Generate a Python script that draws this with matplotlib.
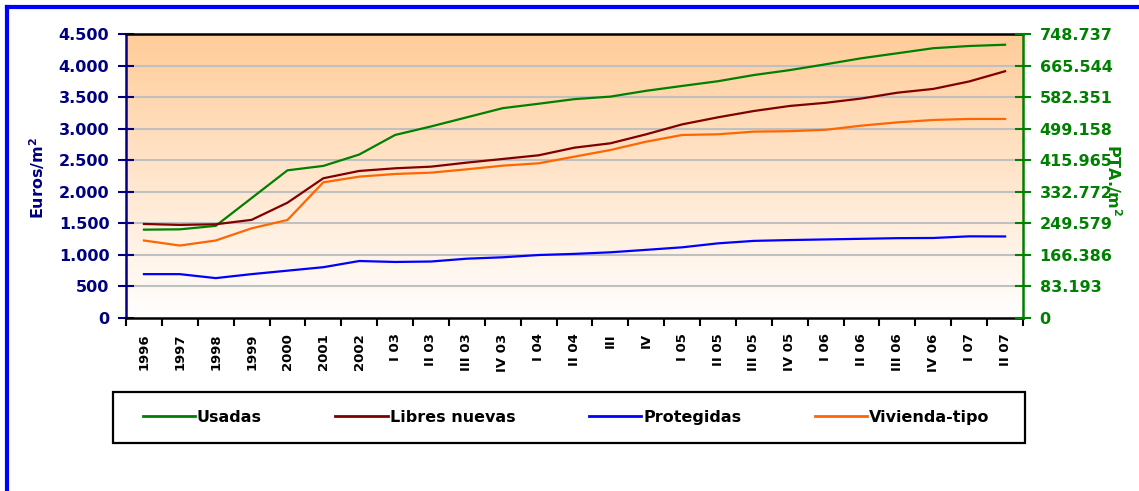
import numpy as np
import matplotlib
matplotlib.use('Agg')
import matplotlib.pyplot as plt
from matplotlib.lines import Line2D
from matplotlib.patches import Rectangle

# categories (x axis)
periods = ['1996', '1997', '1998', '1999', '2000', '2001', '2002',
           'I 03', 'II 03', 'III 03', 'IV 03', 'I 04', 'II 04', 'III', 'IV',
           'I 05', 'II 05', 'III 05', 'IV 05', 'I 06', 'II 06', 'III 06', 'IV 06',
           'I 07', 'II 07']

# euros / m2
usadas = [1400, 1405, 1460, 1900, 2340, 2410, 2590, 2900, 3035, 3180, 3325, 3395,
          3468, 3508, 3600, 3677, 3752, 3850, 3928, 4020, 4116, 4195, 4275, 4310, 4330]
libres_nuevas = [1490, 1475, 1485, 1555, 1827, 2214, 2330, 2372, 2398, 2462, 2520, 2578,
                 2699, 2768, 2911, 3068, 3180, 3280, 3360, 3410, 3478, 3570, 3630, 3748, 3910]
protegidas = [695, 695, 632, 695, 750, 805, 903, 888, 895, 940, 962, 998,
              1016, 1041, 1080, 1120, 1183, 1222, 1235, 1245, 1255, 1265, 1268, 1294, 1292]
vivienda_tipo = [1228, 1148, 1228, 1421, 1553, 2150, 2240, 2282, 2303, 2356, 2414, 2451,
                 2557, 2662, 2794, 2900, 2911, 2953, 2960, 2982, 3048, 3100, 3138, 3154, 3154]

# left axis ticks and matching peseta labels on the right
euro_ticks = [0, 500, 1000, 1500, 2000, 2500, 3000, 3500, 4000, 4500]
euro_labels = ['0', '500', '1.000', '1.500', '2.000', '2.500', '3.000', '3.500', '4.000', '4.500']
pta_labels = ['0', '83.193', '166.386', '249.579', '332.772', '415.965',
              '499.158', '582.351', '665.544', '748.737']

NAVY = '#000080'
GREEN = '#008000'

W, H = 1139, 491
fig = plt.figure(figsize=(W / 100, H / 100), dpi=100)
fig.patch.set_facecolor('white')

ax = fig.add_axes([126 / W, 1 - 318 / H, (1023 - 126) / W, (318 - 34) / H])
x = np.arange(len(periods))

# peach -> white background gradient
grad = np.linspace(0, 1, 256).reshape(-1, 1)
top = np.array([255, 204, 153]) / 255
bot = np.array([255, 255, 255]) / 255
img = top[None, None, :] * (1 - grad[:, :, None]) + bot[None, None, :] * grad[:, :, None]
ax.imshow(img, extent=[0, 1, 0, 1], transform=ax.transAxes, aspect='auto', zorder=0)

for v in euro_ticks[1:-1]:
    ax.axhline(v, color='#c0c0c0', lw=1.5, zorder=1)

ax.plot(x, usadas, color=GREEN, lw=1.6, label='Usadas', zorder=3)
ax.plot(x, libres_nuevas, color='#800000', lw=1.6, label='Libres nuevas', zorder=3)
ax.plot(x, protegidas, color='#0000ff', lw=1.6, label='Protegidas', zorder=3)
ax.plot(x, vivienda_tipo, color='#ff6600', lw=1.6, label='Vivienda-tipo', zorder=3)

ax.set_xlim(-0.5, len(periods) - 0.5)
ax.set_ylim(0, 4500)

ax.set_yticks(euro_ticks)
ax.set_yticklabels(euro_labels)
ax.tick_params(axis='y', direction='inout', length=12, width=1.5, color=NAVY,
               labelcolor=NAVY, labelsize=11.5, pad=6)
for t in ax.get_yticklabels():
    t.set_fontweight('bold')

ax.set_xticks(x)
ax.set_xticklabels(periods, rotation=90, fontsize=9.5, fontweight='bold', va='top')
ax.tick_params(axis='x', length=0, pad=11)
ax.set_xticks(np.arange(len(periods) + 1) - 0.5, minor=True)
ax.tick_params(axis='x', which='minor', direction='out', length=6, width=1.5, color='black')

for side in ['top', 'bottom']:
    ax.spines[side].set_color('black')
    ax.spines[side].set_linewidth(1.8)
ax.spines['left'].set_color(NAVY)
ax.spines['left'].set_linewidth(1.8)
ax.spines['right'].set_visible(False)

ax2 = ax.twinx()
ax2.set_ylim(0, 4500)
ax2.set_yticks(euro_ticks)
ax2.set_yticklabels(pta_labels)
ax2.tick_params(axis='y', direction='inout', length=12, width=1.5, color=GREEN,
                labelcolor=GREEN, labelsize=11.5, pad=6)
for t in ax2.get_yticklabels():
    t.set_fontweight('bold')
for side in ['top', 'bottom', 'left']:
    ax2.spines[side].set_visible(False)
ax2.spines['right'].set_color(GREEN)
ax2.spines['right'].set_linewidth(1.8)

fig.text(37 / W, 1 - 178 / H, 'Euros/m$^\\mathbf{2}$', rotation=90, color=NAVY,
         fontsize=11.5, fontweight='bold', ha='center', va='center')
fig.text(1114 / W, 1 - 180 / H, 'PTA./m$^\\mathbf{2}$', rotation=270, color=GREEN,
         fontsize=11.5, fontweight='bold', ha='center', va='center')

# legend entries centred in a box spanning x 113..1025, y 392..443
leg = fig.legend(*ax.get_legend_handles_labels(), loc='center', ncol=4,
                 bbox_to_anchor=(566 / W, 1 - 417.5 / H),
                 fontsize=11.5, handlelength=3.3, handletextpad=0.1, columnspacing=4.6,
                 frameon=False, borderaxespad=0)
for t in leg.get_texts():
    t.set_fontweight('bold')
for h in leg.get_lines():
    h.set_linewidth(2)
fig.add_artist(Rectangle((113 / W, 1 - 443 / H), (1025 - 113) / W, 51 / H,
                         transform=fig.transFigure, facecolor='none',
                         edgecolor='black', lw=1.6))

# blue outer frame (left and top edges)
fig.add_artist(Line2D([6.5 / W, 6.5 / W], [0, 1 - 6.5 / H], transform=fig.transFigure,
                      color='#0000ff', lw=3, solid_capstyle='projecting'))
fig.add_artist(Line2D([6.5 / W, 1], [1 - 6.5 / H, 1 - 6.5 / H], transform=fig.transFigure,
                      color='#0000ff', lw=3, solid_capstyle='projecting'))

fig.savefig('out.png', dpi=100)
